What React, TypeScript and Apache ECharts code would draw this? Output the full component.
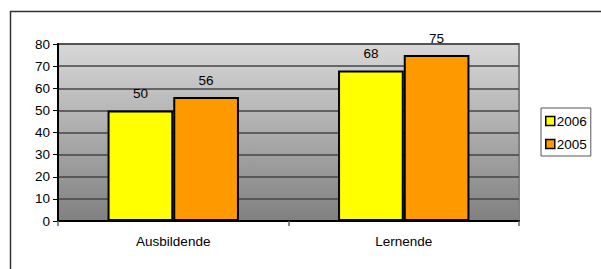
import React, { useEffect, useRef } from "react";
import * as echarts from "echarts";

const categories = ["Ausbildende", "Lernende"];
const series2006 = [50, 68];
const series2005 = [56, 75];
const seriesNames = ["2006", "2005"];
const yTicks = { min: 0, max: 80, interval: 10 };

export default function App() {
  const ref = useRef<HTMLDivElement>(null);
  useEffect(() => {
    document.body.style.margin = "0";
    const chart = echarts.init(ref.current!, null, { renderer: "svg" });
    const font = "Liberation Sans, Arial, sans-serif";
    const fs = 13.5;
    chart.setOption({
      animation: false,
      backgroundColor: "#ffffff",
      textStyle: { fontFamily: font },
      graphic: [
        {
          type: "rect",
          shape: { x: 10.5, y: 11.5, width: 620, height: 300 },
          style: { fill: "none", stroke: "#333333", lineWidth: 1.5 },
          silent: true,
          z: -10,
        },
      ],
      grid: {
        left: 58,
        top: 44,
        width: 461,
        height: 177,
        show: true,
        backgroundColor: new echarts.graphic.LinearGradient(0, 0, 0, 1, [
          { offset: 0, color: "#d8d8d8" },
          { offset: 1, color: "#808080" },
        ]),
        borderColor: "#808080",
        borderWidth: 2,
      },
      legend: {
        orient: "vertical",
        left: 541,
        top: 108,
        width: 57,
        height: 50,
        padding: [6, 4, 5, 4],
        itemGap: 9,
        itemWidth: 9,
        itemHeight: 9,
        borderColor: "#555555",
        borderWidth: 1,
        icon: "rect",
        textStyle: { fontFamily: font, fontSize: fs, color: "#000", padding: [0, 0, 0, -3] },
        itemStyle: { borderColor: "#000", borderWidth: 1.5 },
        data: seriesNames,
      },
      xAxis: {
        type: "category",
        data: categories,
        axisLine: { lineStyle: { color: "#000", width: 2 } },
        axisTick: { show: true, length: 5, lineStyle: { color: "#666", width: 1.5 } },
        axisLabel: { color: "#000", fontSize: fs, fontFamily: font, margin: 13 },
      },
      yAxis: {
        type: "value",
        min: yTicks.min,
        max: yTicks.max,
        interval: yTicks.interval,
        axisLine: { show: true, lineStyle: { color: "#000", width: 2 } },
        axisTick: { show: true, length: 5, lineStyle: { color: "#000", width: 1 } },
        axisLabel: { color: "#000", fontSize: fs, fontFamily: font, margin: 8 },
        splitLine: { lineStyle: { color: "#444", width: 1.5 } },
      },
      series: [
        {
          name: seriesNames[0],
          type: "bar",
          data: series2006,
          barGap: "0%",
          barCategoryGap: "43%",
          itemStyle: { color: "#ffff00", borderColor: "#000", borderWidth: 2 },
          label: { show: true, position: "top", distance: 10, color: "#000", fontSize: fs, fontFamily: font },
        },
        {
          name: seriesNames[1],
          type: "bar",
          data: series2005,
          barGap: "0%",
          barCategoryGap: "43%",
          itemStyle: { color: "#ff9900", borderColor: "#000", borderWidth: 2 },
          label: { show: true, position: "top", distance: 10, color: "#000", fontSize: fs, fontFamily: font },
        },
      ],
    });
    return () => chart.dispose();
  }, []);
  return <div ref={ref} style={{ width: 601, height: 269 }} />;
}
